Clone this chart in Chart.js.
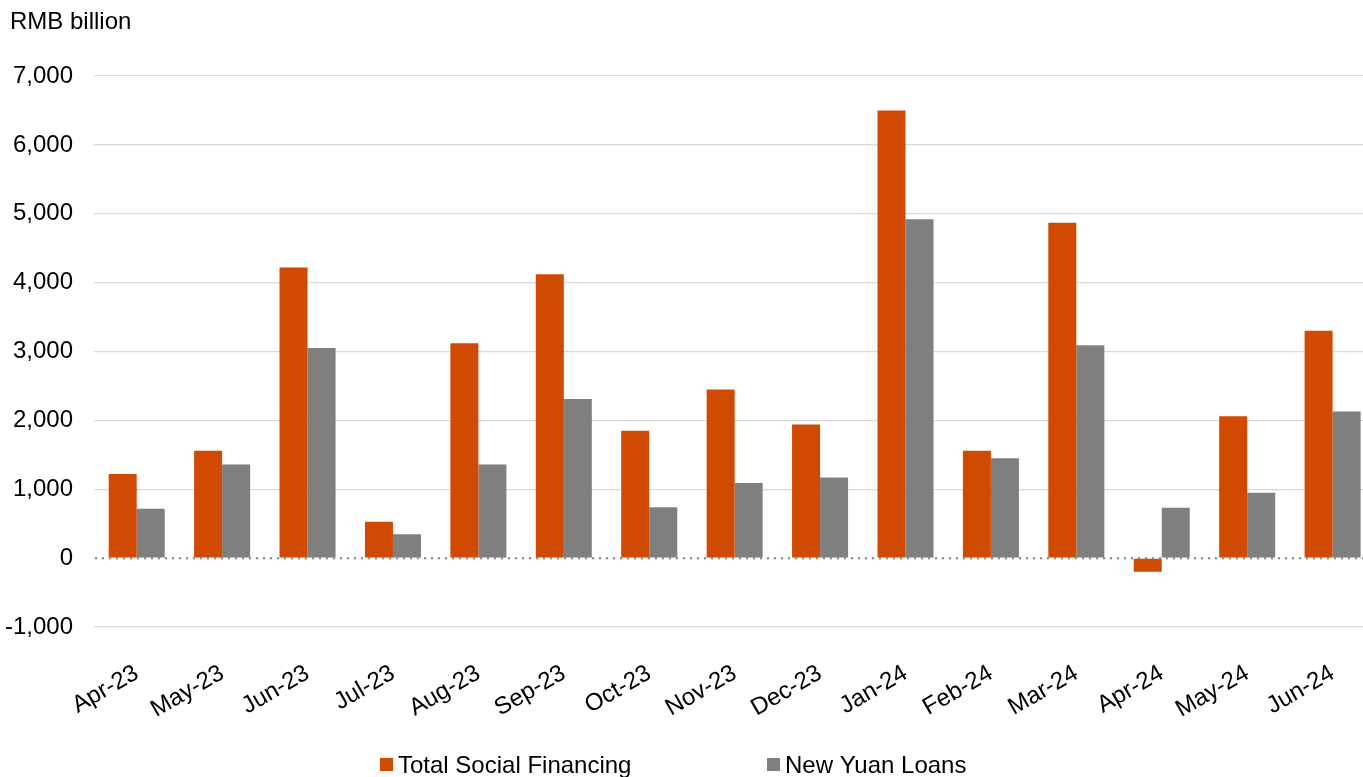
<!DOCTYPE html>
<html>
<head>
<meta charset="utf-8">
<script src="https://cdn.jsdelivr.net/npm/chart.js@4.4.1/dist/chart.umd.min.js"></script>
<style>
html,body{margin:0;padding:0;background:#fff;overflow:hidden;}
canvas{display:block;}
</style>
</head>
<body>
<canvas id="c" width="1379" height="777"></canvas>
<script>
const categories = ["Apr-23","May-23","Jun-23","Jul-23","Aug-23","Sep-23","Oct-23","Nov-23","Dec-23","Jan-24","Feb-24","Mar-24","Apr-24","May-24","Jun-24"];
const totalSocialFinancing = [1220,1560,4220,528,3120,4120,1850,2450,1940,6500,1560,4870,-199,2060,3300];
const newYuanLoans = [718,1360,3050,345,1360,2310,738,1090,1170,4920,1450,3090,730,950,2130];
const yTicks = [-1000,0,1000,2000,3000,4000,5000,6000,7000];
const seriesNames = ["Total Social Financing","New Yuan Loans"];
const seriesColors = ["#D04A02","#7F7F7F"];
const axisTitle = "RMB billion";

const FONT = "'Liberation Sans', Arial, sans-serif";

const extras = {
  id: 'extras',
  afterDatasetsDraw(chart) {
    const ctx = chart.ctx;
    const y0 = chart.scales.y.getPixelForValue(0);
    const a = chart.chartArea;
    ctx.save();
    ctx.strokeStyle = '#8c8c8c';
    ctx.lineWidth = 2.5;
    ctx.lineCap = 'round';
    ctx.setLineDash([0, 7]);
    ctx.beginPath();
    ctx.moveTo(a.left + 2, y0);
    ctx.lineTo(a.right, y0);
    ctx.stroke();
    ctx.restore();
  },
  afterDraw(chart) {
    const ctx = chart.ctx;
    ctx.save();
    ctx.fillStyle = '#000';
    ctx.font = '24px ' + FONT;
    ctx.textBaseline = 'middle';
    ctx.textAlign = 'left';
    ctx.fillText(axisTitle, 10, 22);
    // legend
    const xs = [380, 767];
    chart.data.datasets.forEach((ds, i) => {
      ctx.fillStyle = ds.backgroundColor;
      ctx.fillRect(xs[i], 758, 13, 13);
      ctx.fillStyle = '#000';
      ctx.fillText(ds.label, xs[i] + 18, 766);
    });
    ctx.restore();
  }
};

new Chart(document.getElementById('c'), {
  type: 'bar',
  data: {
    labels: categories,
    datasets: [
      { label: seriesNames[0], data: totalSocialFinancing, backgroundColor: seriesColors[0], borderWidth: 0 },
      { label: seriesNames[1], data: newYuanLoans, backgroundColor: seriesColors[1], borderWidth: 0 }
    ]
  },
  options: {
    responsive: false,
    animation: false,
    devicePixelRatio: 1,
    layout: { padding: { top: 76, left: 0, right: 0, bottom: 40 } },
    datasets: { bar: { categoryPercentage: 0.656, barPercentage: 1.0 } },
    plugins: { legend: { display: false }, tooltip: { enabled: false }, title: { display: false } },
    scales: {
      x: {
        grid: { display: false, drawTicks: false },
        border: { display: false },
        ticks: {
          autoSkip: false, minRotation: 30, maxRotation: 30, padding: 32,
          color: '#000', font: { family: FONT, size: 24 }
        },
        afterFit(scale) { scale.height = 110; }
      },
      y: {
        min: -1000, max: 7000,
        afterBuildTicks(scale) { scale.ticks = yTicks.map(v => ({ value: v })); },
        grid: {
          drawTicks: false,
          color: ctx => (ctx.tick && ctx.tick.value === 0) ? 'rgba(0,0,0,0)' : '#d9d9d9',
          lineWidth: 1.3
        },
        border: { display: false },
        ticks: {
          padding: 21, color: '#000', font: { family: FONT, size: 24 },
          callback: v => v.toLocaleString('en-US')
        },
        afterFit(scale) { scale.width = 94; }
      }
    }
  },
  plugins: [extras]
});
</script>
</body>
</html>
